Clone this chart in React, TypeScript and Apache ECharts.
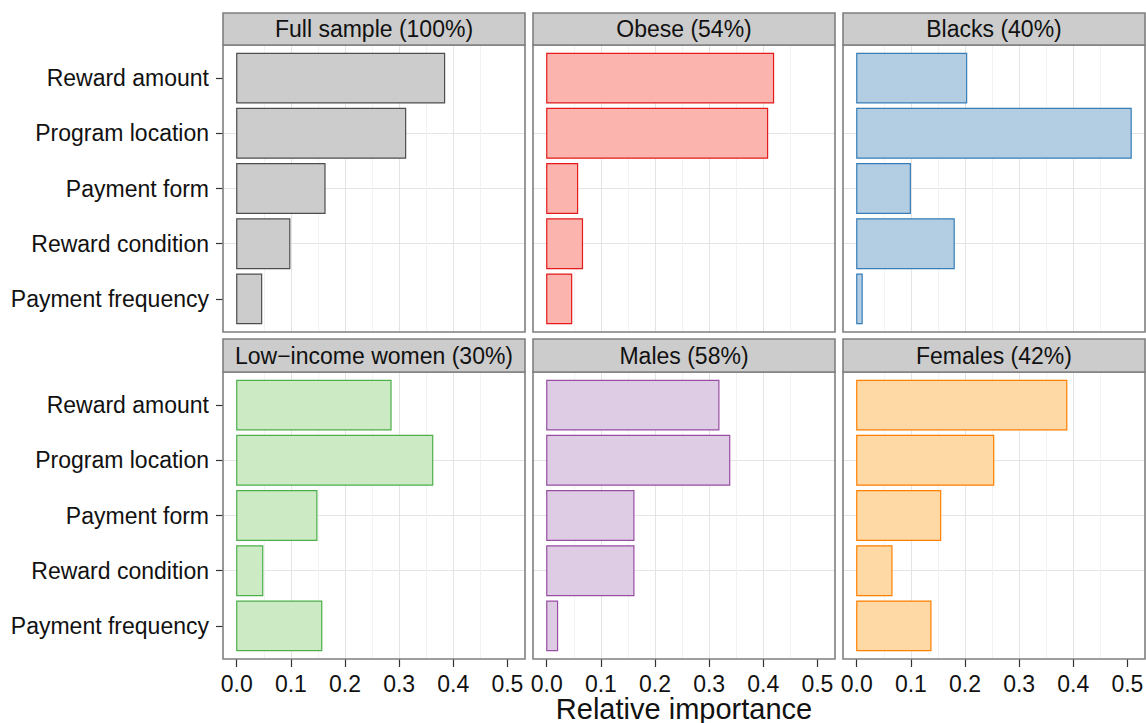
import React, { useEffect, useRef } from 'react';
import * as echarts from 'echarts';

const categories = ['Reward amount', 'Program location', 'Payment form', 'Reward condition', 'Payment frequency'];
const panelTitles = ['Full sample (100%)', 'Obese (54%)', 'Blacks (40%)', 'Low\u2212income women (30%)', 'Males (58%)', 'Females (42%)'];

const fullSample = [0.384, 0.312, 0.163, 0.098, 0.046];
const obese = [0.419, 0.408, 0.057, 0.066, 0.046];
const blacks = [0.203, 0.507, 0.099, 0.180, 0.010];
const lowIncomeWomen = [0.285, 0.362, 0.148, 0.048, 0.157];
const males = [0.318, 0.338, 0.161, 0.161, 0.020];
const females = [0.388, 0.253, 0.155, 0.065, 0.137];

const xTicks = [0, 0.1, 0.2, 0.3, 0.4, 0.5];
const yTicks = [0, 1, 2, 3, 4];
const xAxisTitle = 'Relative importance';

const panelValues = [fullSample, obese, blacks, lowIncomeWomen, males, females];
const fills = ['#cccccc', '#fbb4ae', '#b3cde3', '#ccebc5', '#decbe4', '#fed9a6'];
const strokes = ['#4d4d4d', '#e41a1c', '#377eb8', '#4daf4a', '#984ea3', '#ff7f00'];

const FONT = '"Liberation Sans", Arial, Helvetica, sans-serif';
const X_MIN = -0.0254;
const X_MAX = 0.5325;

export default function App() {
  const ref = useRef<HTMLDivElement>(null);
  useEffect(() => {
    if (!ref.current) return;
    const chart = echarts.init(ref.current, null, { renderer: 'svg' });
    const lefts = [223, 533, 843];
    const tops = [45, 372];
    const stripTops = [13, 339];
    const W = 302;
    const H = 287;

    const grids: any[] = [];
    const xAxes: any[] = [];
    const yAxes: any[] = [];
    const series: any[] = [];
    const graphics: any[] = [];

    panelValues.forEach((vals, i) => {
      const col = i % 3;
      const row = Math.floor(i / 3);
      grids.push({ left: lefts[col], top: tops[row], width: W, height: H, containLabel: false, outerBoundsMode: 'none' });
      xAxes.push({
        type: 'value', gridIndex: i, position: 'bottom', min: X_MIN, max: X_MAX, splitNumber: 5, minInterval: 0.1, maxInterval: 0.1,
        axisLine: { show: false, onZero: false },
        axisTick: { show: row === 1, length: 8, customValues: xTicks, lineStyle: { color: '#333', width: 1.2 } },
        axisLabel: {
          show: row === 1, customValues: xTicks, margin: 13, fontSize: 23, color: '#111', fontFamily: FONT,
          formatter: (v: number) => v.toFixed(1),
        },
        splitLine: { show: true, showMinLine: false, showMaxLine: false, lineStyle: { color: '#e4e4e4', width: 1 } },
        minorTick: { show: false, splitNumber: 2 },
        minorSplitLine: { show: true, lineStyle: { color: '#f2f2f2', width: 1 } },
      });
      yAxes.push({
        type: 'value', gridIndex: i, position: 'left', min: -0.6, max: 4.6, inverse: true, splitNumber: 5, minInterval: 1, maxInterval: 1,
        axisLine: { show: false, onZero: false },
        axisTick: { show: col === 0, length: 7, customValues: yTicks, lineStyle: { color: '#333', width: 1.2 } },
        axisLabel: {
          show: col === 0, customValues: yTicks, margin: 14, fontSize: 23, color: '#111', fontFamily: FONT,
          formatter: (v: number) => {
            const r = Math.round(v);
            return Math.abs(v - r) < 1e-6 && categories[r] ? categories[r] : '';
          },
        },
        splitLine: { show: true, showMinLine: false, showMaxLine: false, lineStyle: { color: '#e4e4e4', width: 1 } },
      });
      const fill = fills[i];
      const stroke = strokes[i];
      series.push({
        type: 'custom', xAxisIndex: i, yAxisIndex: i,
        data: vals.map((v, k) => [v, k]),
        encode: { x: 0, y: 1 },
        renderItem: (_params: any, api: any) => {
          const v = api.value(0);
          const k = api.value(1);
          const a = api.coord([0, k - 0.45]);
          const b = api.coord([v, k + 0.45]);
          return {
            type: 'rect',
            shape: {
              x: Math.min(a[0], b[0]), y: Math.min(a[1], b[1]),
              width: Math.abs(b[0] - a[0]), height: Math.abs(b[1] - a[1]),
            },
            style: { fill, stroke, lineWidth: 1.2 },
          };
        },
      });
      graphics.push({
        type: 'rect', z: 100, silent: true,
        shape: { x: lefts[col], y: tops[row], width: W, height: H },
        style: { fill: 'none', stroke: '#7f7f7f', lineWidth: 1.6 },
      });
      graphics.push({
        type: 'rect', z: 100, silent: true,
        shape: { x: lefts[col], y: stripTops[row], width: W, height: tops[row] - stripTops[row] },
        style: { fill: '#cccccc', stroke: '#7f7f7f', lineWidth: 1.6 },
      });
      graphics.push({
        type: 'text', z: 101, silent: true,
        x: lefts[col] + W / 2, y: (stripTops[row] + tops[row]) / 2,
        style: {
          text: panelTitles[i], fill: '#111', fontSize: 23, fontFamily: FONT,
          align: 'center', verticalAlign: 'middle',
        },
      });
    });

    graphics.push({
      type: 'text', z: 101, silent: true,
      x: 684, y: 709,
      style: { text: xAxisTitle, fill: '#111', fontSize: 29, fontFamily: FONT, align: 'center', verticalAlign: 'middle' },
    });

    chart.setOption({
      animation: false,
      backgroundColor: '#ffffff',
      grid: grids,
      xAxis: xAxes,
      yAxis: yAxes,
      series,
      graphic: graphics,
    });
    return () => chart.dispose();
  }, []);
  return <div ref={ref} style={{ position: 'absolute', left: 0, top: 0, width: 1146, height: 723 }} />;
}
